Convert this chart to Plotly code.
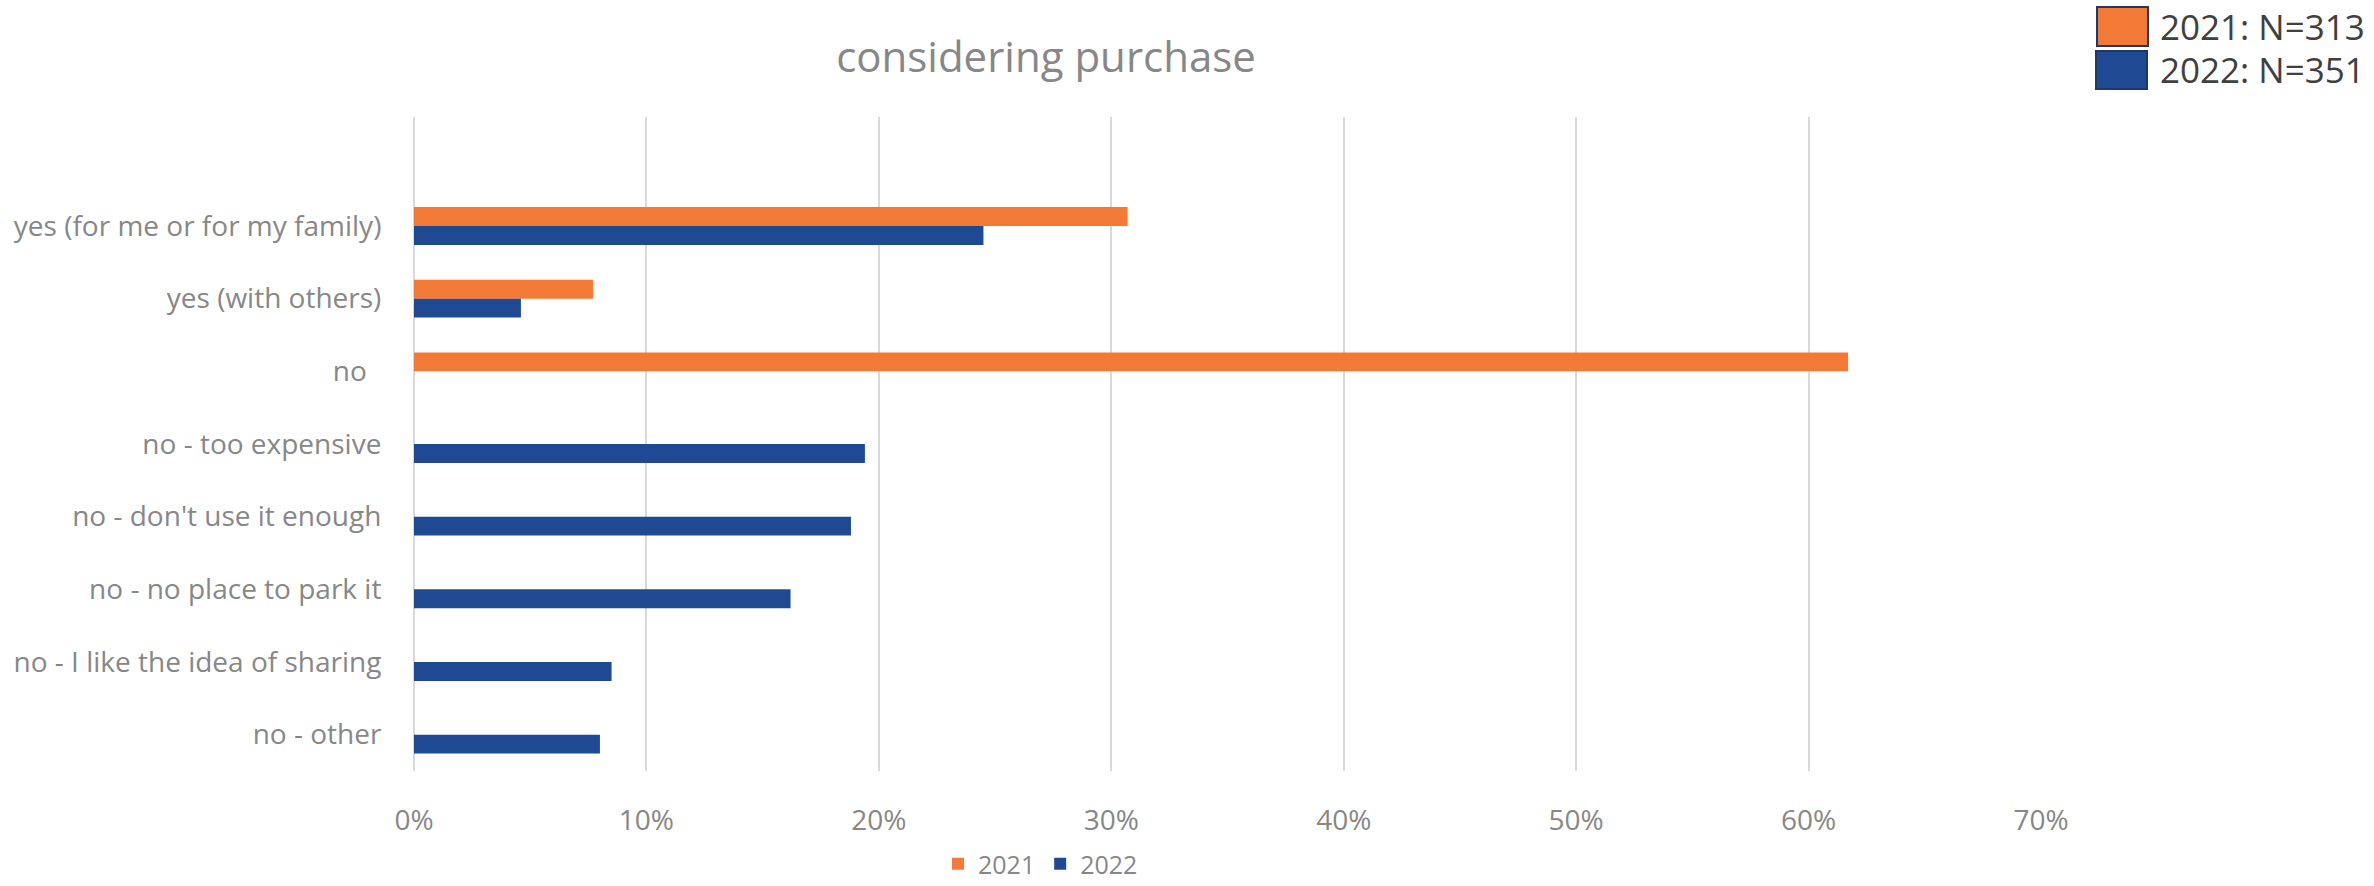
import plotly.graph_objects as go

# Survey answers, top to bottom
categories = [
    "yes (for me or for my family)",
    "yes (with others)",
    "no\u00a0\u00a0",
    "no - too expensive",
    "no - don't use it enough",
    "no - no place to park it",
    "no - I like the idea of sharing",
    "no - other",
]

# Share of respondents (%) per year
share_2021 = [30.7, 7.7, 61.7, None, None, None, None, None]
share_2022 = [24.5, 4.6, None, 19.4, 18.8, 16.2, 8.5, 8.0]

series_names = ["2021", "2022"]
sample_labels = ["2021: N=313", "2022: N=351"]
x_ticks = [0, 10, 20, 30, 40, 50, 60, 70]
x_tick_labels = ["0%", "10%", "20%", "30%", "40%", "50%", "60%", "70%"]

ORANGE = "#F37937"
BLUE = "#1F4A93"
TEXT_GREY = "#878787"
GRID = "#D9D9D9"
FONT = "Open Sans"

W, H = 2374, 886
M_L, M_R, M_T, M_B = 414, 333, 117, 115
PLOT_W = W - M_L - M_R
PLOT_H = H - M_T - M_B


def px_to_paper_x(px):
    return (px - M_L) / PLOT_W


def px_to_paper_y(py):
    return (H - M_B - py) / PLOT_H


fig = go.Figure()
fig.add_trace(go.Bar(
    name=series_names[0], y=categories, x=share_2021, orientation="h",
    marker=dict(color=ORANGE, line=dict(width=0)),
))
fig.add_trace(go.Bar(
    name=series_names[1], y=categories, x=share_2022, orientation="h",
    marker=dict(color=BLUE, line=dict(width=0)),
))

# Sample-size key in the top right corner
key_boxes = [
    (2097, 7, 2148, 46, ORANGE),
    (2096, 51, 2147, 89, BLUE),
]
for (x0, y0, x1, y1, col), label in zip(key_boxes, sample_labels):
    fig.add_shape(
        type="rect", xref="paper", yref="paper",
        x0=px_to_paper_x(x0), x1=px_to_paper_x(x1),
        y0=px_to_paper_y(y1), y1=px_to_paper_y(y0),
        fillcolor=col, line=dict(color="#1F3864", width=2),
    )
    fig.add_annotation(
        xref="paper", yref="paper",
        x=px_to_paper_x(2158), y=px_to_paper_y((y0 + y1) / 2),
        xanchor="left", yanchor="middle", showarrow=False,
        text=label, font=dict(family=FONT, size=35, color="#404040"),
    )

fig.update_layout(
    width=W, height=H,
    margin=dict(l=M_L, r=M_R, t=M_T, b=M_B, autoexpand=False),
    paper_bgcolor="white", plot_bgcolor="white",
    barmode="group", bargap=0.48, bargroupgap=0,
    title=dict(
        text="considering purchase",
        font=dict(family=FONT, size=42, color=TEXT_GREY),
        x=1046 / W, xref="container", xanchor="center",
        y=1 - 57 / H, yref="container", yanchor="middle",
    ),
    font=dict(family=FONT, color=TEXT_GREY),
    legend=dict(
        orientation="h", xanchor="left", yanchor="middle",
        x=px_to_paper_x(938), y=px_to_paper_y(864),
        font=dict(family=FONT, size=25, color=TEXT_GREY),
        bgcolor="rgba(0,0,0,0)", traceorder="normal",
    ),
    xaxis=dict(
        range=[0, 70], tickmode="array", tickvals=x_ticks, ticktext=x_tick_labels,
        showgrid=True, gridcolor=GRID, gridwidth=1.5,
        zeroline=True, zerolinecolor=GRID, zerolinewidth=1.5,
        showline=False, ticks="outside", ticklen=24,
        tickcolor="rgba(0,0,0,0)",
        tickfont=dict(family=FONT, size=28, color=TEXT_GREY),
        fixedrange=True,
    ),
    yaxis=dict(
        type="category", categoryorder="array", categoryarray=categories,
        range=[len(categories) - 0.5, -1.5],
        showgrid=False, zeroline=False, showline=False,
        ticks="outside", ticklen=26, tickcolor="rgba(0,0,0,0)",
        tickfont=dict(family=FONT, size=28, color=TEXT_GREY),
        fixedrange=True,
    ),
)

fig.write_html("out.html")
